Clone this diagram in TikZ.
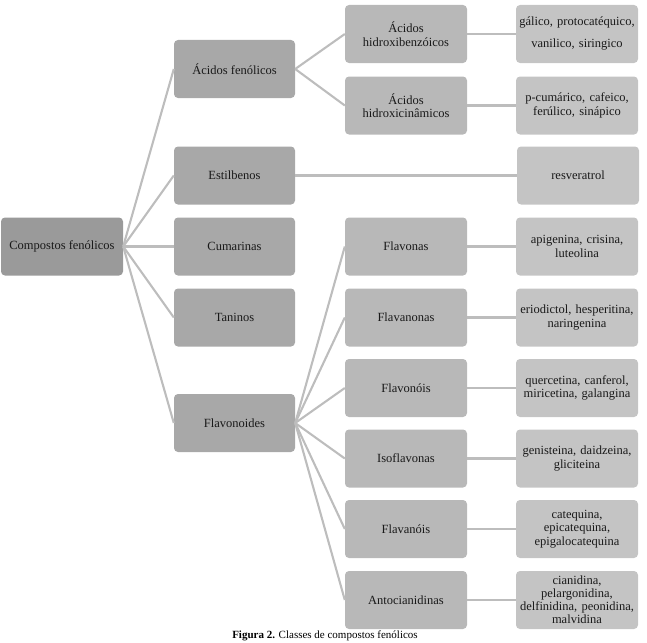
\documentclass[tikz,border=0pt]{standalone}
\usepackage{fontspec}
\setmainfont{Liberation Serif}
\definecolor{croot}{HTML}{9A9A9A}
\definecolor{cone}{HTML}{A8A8A8}
\definecolor{ctwo}{HTML}{B8B8B8}
\definecolor{cthree}{HTML}{C4C4C4}
\definecolor{cline}{HTML}{BDBDBD}
\begin{document}
\begin{tikzpicture}[x=1pt,y=-1pt,
  box/.style={rounded corners=4pt, draw=none, minimum height=58pt, align=center, inner sep=2pt,
    font=\fontsize{12.5}{13.5}\selectfont, text=black!90},
  rootbox/.style={box, fill=croot, minimum width=122pt},
  onebox/.style={box, fill=cone, minimum width=121pt},
  twobox/.style={box, fill=ctwo, minimum width=122pt},
  threebox/.style={box, fill=cthree, minimum width=120pt, text width=118pt},
  link/.style={draw=cline, line width=2.1pt}]
\useasboundingbox (0,0) rectangle (647,642);
\node[rootbox] (root) at (62,246.5) {Compostos fenólicos};
\node[onebox] (acf) at (234.5,69) {Ácidos fenólicos};
\node[onebox] (est) at (234.5,175.5) {Estilbenos};
\node[onebox] (cum) at (234.5,246.5) {Cumarinas};
\node[onebox] (tan) at (234.5,317.5) {Taninos};
\node[onebox] (fla) at (234.5,423) {Flavonoides};
\node[twobox] (hb) at (406,34) {Ácidos\\hidroxibenzóicos};
\node[twobox] (hc) at (406,105.5) {Ácidos\\hidroxicinâmicos};
\node[twobox] (fv) at (406,246.5) {Flavonas};
\node[twobox] (fn) at (406,317.5) {Flavanonas};
\node[twobox] (fo) at (406,388) {Flavonóis};
\node[twobox] (iso) at (406,458.5) {Isoflavonas};
\node[twobox] (fl) at (406,529) {Flavanóis};
\node[twobox] (ant) at (406,600) {Antocianidinas};
\node[threebox, font=\fontsize{12.5}{22}\selectfont] (thb) at (577,34) {gálico, protocatéquico,\\vanilico, siringico};
\node[threebox] (thc) at (577,105.5) {p-cumárico, cafeico,\\ferúlico, sinápico};
\node[threebox] (res) at (578,175.5) {resveratrol};
\node[threebox] (tfv) at (577,246.5) {apigenina, crisina,\\luteolina};
\node[threebox] (tfn) at (577,317.5) {eriodictol, hesperitina,\\naringenina};
\node[threebox] (tfo) at (577,388) {quercetina, canferol,\\miricetina, galangina};
\node[threebox] (tiso) at (577,458.5) {genisteina, daidzeina,\\gliciteina};
\node[threebox] (tfl) at (577,529) {catequina,\\epicatequina,\\epigalocatequina};
\node[threebox, font=\fontsize{12.5}{13}\selectfont] (tant) at (577,600) {cianidina,\\pelargonidina,\\delfinidina, peonidina,\\malvidina};
\foreach \t in {acf,est,cum,tan,fla} \draw[link] (root.east) -- (\t.west);
\foreach \t in {hb,hc} \draw[link] (acf.east) -- (\t.west);
\foreach \t in {fv,fn,fo,iso,fl,ant} \draw[link] (fla.east) -- (\t.west);
\draw[link] (est.east) -- (res.west);
\draw[link] (hb.east) -- (thb.west);
\draw[link] (hc.east) -- (thc.west);
\draw[link] (fv.east) -- (tfv.west);
\draw[link] (fn.east) -- (tfn.west);
\draw[link] (fo.east) -- (tfo.west);
\draw[link] (iso.east) -- (tiso.west);
\draw[link] (fl.east) -- (tfl.west);
\draw[link] (ant.east) -- (tant.west);
\node[anchor=north, inner sep=0pt, font=\fontsize{11}{12}\selectfont] (cap) at (325,630.5) {\textbf{Figura 2.} Classes de compostos fenólicos};
\end{tikzpicture}
\end{document}
